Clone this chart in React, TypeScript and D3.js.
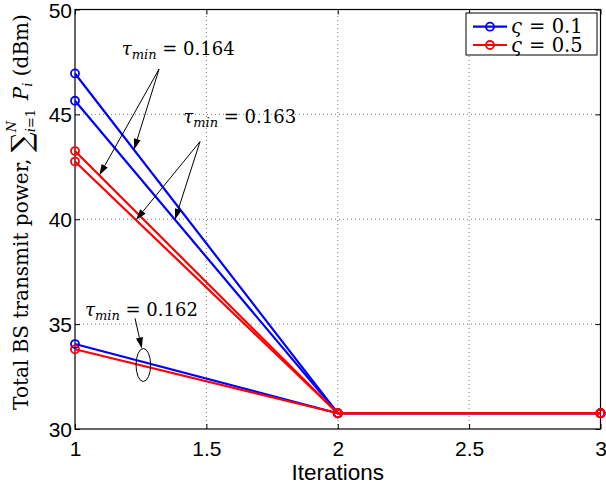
import { useEffect, useRef } from "react";
import * as d3 from "d3";

const iterations = [1, 2, 3];
const tauLabels = ["0.164", "0.163", "0.162"];
// total power (dBm) per iteration, one row per tau_min value
const powerSigma01 = [
  [46.95, 30.75, 30.75],
  [45.65, 30.75, 30.75],
  [34.05, 30.75, 30.75],
];
const powerSigma05 = [
  [43.25, 30.75, 30.75],
  [42.75, 30.75, 30.75],
  [33.8, 30.75, 30.75],
];
const sigmaLabels = ["0.1", "0.5"];
const seriesColors = ["#0000ff", "#ff0000"];
const xTicks = [1, 1.5, 2, 2.5, 3];
const yTicks = [30, 35, 40, 45, 50];

// label anchor / arrow tail in data coords; hits = [group, curve, iteration where the arrow lands]
const arrowNotes = [
  { tau: 0, at: [1.178, 47.83], tail: [1.32, 47.16], hits: [[0, 0, 1.2245], [1, 0, 1.0925]] },
  { tau: 1, at: [1.412, 44.59], tail: [1.4757, 43.7], hits: [[1, 1, 1.232], [0, 1, 1.3806]] },
];
const ellipseNote = { tau: 2, at: [1.038, 35.39], tail: [1.2284, 35.28], x: 1.26 };

const PowerIterationsChart = () => {
  const svgRef = useRef(null);
  const W = 606;
  const H = 488;
  const margin = { top: 9.5, right: 5.5, bottom: 59, left: 75 };
  const mathFont = "DejaVu Serif";
  const axisFont = "Liberation Sans, Arial, sans-serif";

  useEffect(() => {
    const svg = d3.select(svgRef.current);
    svg.selectAll("*").remove();

    const x = d3.scaleLinear().domain([1, 3]).range([margin.left, W - margin.right]);
    const y = d3.scaleLinear().domain([30, 50]).range([H - margin.bottom, margin.top]);
    const groups = [powerSigma01, powerSigma05];

    const valueAt = (row, it) => {
      const i = Math.min(Math.floor(it - 1), iterations.length - 2);
      const t = (it - iterations[i]) / (iterations[i + 1] - iterations[i]);
      return row[i] + t * (row[i + 1] - row[i]);
    };

    svg.append("rect").attr("width", W).attr("height", H).attr("fill", "#fff");

    // grid
    const grid = svg.append("g").attr("stroke", "#444").attr("stroke-width", 0.7).attr("stroke-dasharray", "1,3");
    xTicks.slice(1, -1).forEach((t) => {
      grid.append("line").attr("x1", x(t)).attr("x2", x(t)).attr("y1", y(30)).attr("y2", y(50));
    });
    yTicks.slice(1, -1).forEach((t) => {
      grid.append("line").attr("x1", x(1)).attr("x2", x(3)).attr("y1", y(t)).attr("y2", y(t));
    });

    // axes, ticks pointing inward
    const xAxis = svg
      .append("g")
      .attr("transform", `translate(0, ${y(30)})`)
      .call(d3.axisBottom(x).tickValues(xTicks).tickSizeInner(-5).tickSizeOuter(0).tickPadding(12.5).tickFormat(d3.format("")));
    const yAxis = svg
      .append("g")
      .attr("transform", `translate(${x(1)}, 0)`)
      .call(d3.axisLeft(y).tickValues(yTicks).tickSizeInner(-5).tickSizeOuter(0).tickPadding(3));
    svg
      .append("g")
      .attr("transform", `translate(0, ${y(50)})`)
      .call(d3.axisTop(x).tickValues(xTicks).tickSizeInner(-5).tickSizeOuter(0).tickFormat(() => ""));
    svg
      .append("g")
      .attr("transform", `translate(${x(3)}, 0)`)
      .call(d3.axisRight(y).tickValues(yTicks).tickSizeInner(-5).tickSizeOuter(0).tickFormat(() => ""));
    svg.selectAll(".domain").remove();
    svg.selectAll(".tick line").attr("stroke", "#000").attr("stroke-width", 1);
    [xAxis, yAxis].forEach((g) => g.selectAll("text").attr("font-family", axisFont).attr("font-size", 21).attr("fill", "#000"));
    yAxis.selectAll("text").attr("dy", "0.36em");

    svg
      .append("rect")
      .attr("x", x(1))
      .attr("y", y(50))
      .attr("width", x(3) - x(1))
      .attr("height", y(30) - y(50))
      .attr("fill", "none")
      .attr("stroke", "#000")
      .attr("stroke-width", 1.2);

    // x axis title
    svg
      .append("text")
      .attr("x", x(2))
      .attr("y", 480)
      .attr("text-anchor", "middle")
      .attr("font-family", axisFont)
      .attr("font-size", 22.5)
      .text("Iterations");

    // y axis title
    const yt = svg
      .append("text")
      .attr("transform", `translate(28, 212) rotate(-90)`)
      .attr("text-anchor", "middle")
      .attr("font-family", mathFont)
      .attr("font-size", 20);
    yt.append("tspan").text("Total BS transmit power, ");
    yt.append("tspan").attr("font-size", 28).attr("dy", 3).text("\u2211");
    const sub = yt.append("tspan").attr("font-size", 13).attr("dy", 4);
    sub.append("tspan").attr("font-style", "italic").text("i");
    sub.append("tspan").text("=1");
    const subW = sub.node().getComputedTextLength();
    yt.append("tspan").attr("font-size", 13).attr("font-style", "italic").attr("dx", -subW).attr("dy", -19).text("N");
    yt.append("tspan").attr("dx", subW - 9).attr("dy", 12).attr("font-style", "italic").text(" P");
    yt.append("tspan").attr("font-size", 13).attr("font-style", "italic").attr("dy", 4).text("i");
    yt.append("tspan").attr("dy", -4).text(" (dBm)");

    // curves
    const line = d3
      .line()
      .x((d, i) => x(iterations[i]))
      .y((d) => y(d));
    groups.forEach((rows, g) => {
      rows.forEach((row) => {
        svg
          .append("path")
          .datum(row)
          .attr("d", line)
          .attr("fill", "none")
          .attr("stroke", seriesColors[g])
          .attr("stroke-width", 2.2);
        svg
          .selectAll(null)
          .data(row)
          .enter()
          .append("circle")
          .attr("cx", (d, i) => x(iterations[i]))
          .attr("cy", (d) => y(d))
          .attr("r", 4)
          .attr("fill", "none")
          .attr("stroke", seriesColors[g])
          .attr("stroke-width", 1.8);
      });
    });

    // annotations
    const tauText = (px, py, label) => {
      const t = svg.append("text").attr("x", px).attr("y", py).attr("font-family", mathFont).attr("font-size", 18).attr("fill", "#000");
      t.append("tspan").attr("font-style", "italic").text("\u03c4");
      t.append("tspan").attr("font-style", "italic").attr("font-size", 13).attr("dy", 4).text("min");
      t.append("tspan").attr("dy", -4).text(` = ${label}`);
    };
    const arrow = (x1, y1, x2, y2) => {
      const ang = Math.atan2(y2 - y1, x2 - x1);
      const len = 11;
      const hw = 3.5;
      const bx = x2 - len * Math.cos(ang);
      const by = y2 - len * Math.sin(ang);
      svg.append("line").attr("x1", x1).attr("y1", y1).attr("x2", bx).attr("y2", by).attr("stroke", "#000").attr("stroke-width", 1);
      svg
        .append("path")
        .attr(
          "d",
          `M${x2},${y2}L${bx - hw * Math.sin(ang)},${by + hw * Math.cos(ang)}L${bx + hw * Math.sin(ang)},${by - hw * Math.cos(ang)}Z`
        )
        .attr("fill", "#000");
    };

    arrowNotes.forEach((n) => {
      tauText(x(n.at[0]), y(n.at[1]), tauLabels[n.tau]);
      n.hits.forEach(([g, c, it]) => {
        arrow(x(n.tail[0]), y(n.tail[1]), x(it), y(valueAt(groups[g][c], it)));
      });
    });

    tauText(x(ellipseNote.at[0]), y(ellipseNote.at[1]), tauLabels[ellipseNote.tau]);
    const ey = (y(valueAt(powerSigma01[2], ellipseNote.x)) + y(valueAt(powerSigma05[2], ellipseNote.x))) / 2 + 1;
    const ry = 16.5;
    svg
      .append("ellipse")
      .attr("cx", x(ellipseNote.x))
      .attr("cy", ey)
      .attr("rx", 7.3)
      .attr("ry", ry)
      .attr("fill", "none")
      .attr("stroke", "#000")
      .attr("stroke-width", 1);
    arrow(x(ellipseNote.tail[0]), y(ellipseNote.tail[1]), x(ellipseNote.x) - 1.5, ey - ry);

    // legend
    const lg = svg.append("g");
    lg.append("rect").attr("x", 466).attr("y", 13).attr("width", 131).attr("height", 42).attr("fill", "#fff").attr("stroke", "#000").attr("stroke-width", 1);
    sigmaLabels.forEach((s, i) => {
      const ly = 26.7 + i * 18.3;
      lg.append("line").attr("x1", 473).attr("x2", 507).attr("y1", ly).attr("y2", ly).attr("stroke", seriesColors[i]).attr("stroke-width", 2.2);
      lg.append("circle").attr("cx", 490).attr("cy", ly).attr("r", 4).attr("fill", "none").attr("stroke", seriesColors[i]).attr("stroke-width", 1.8);
      const t = lg.append("text").attr("x", 511).attr("y", ly + 6.5).attr("font-family", mathFont).attr("font-size", 19.5);
      t.append("tspan").attr("font-style", "italic").text("\u03c2");
      t.append("tspan").attr("dx", 1).text(` = ${s}`);
    });
  }, []);

  return (
    <svg
      ref={svgRef}
      width={W}
      height={H}
      viewBox={`0 0 ${W} ${H}`}
      style={{ position: "absolute", left: 0, top: 0, display: "block" }}
    ></svg>
  );
};

export default function App() {
  return <PowerIterationsChart />;
}
